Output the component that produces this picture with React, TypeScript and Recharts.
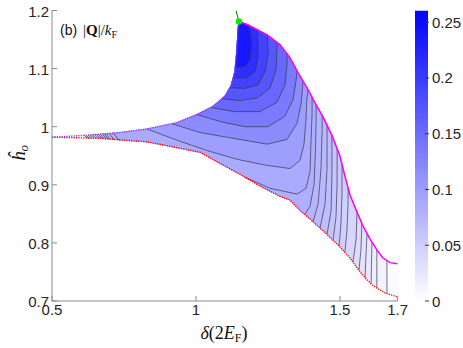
import React from "react";
import { ComposedChart, Scatter, XAxis, YAxis, BarChart, Bar } from "recharts";

type Pt = [number, number];

const xTicks = [0.5, 1, 1.5, 1.7];
const yTicks = [0.7, 0.8, 0.9, 1, 1.1, 1.2];
const topTicks = [1, 1.5];
const rightTicks = [0.8, 0.9, 1, 1.1];
const cbTicks = [0, 0.05, 0.1, 0.15, 0.2, 0.25];
const cbMax = 0.2605;

// upper-left border of the region (dotted purple), from the tip to the green point
const edgeUpper: Pt[] = [
  [0.5, 0.982], [0.608, 0.985], [0.736, 0.99], [0.83, 0.996], [0.934, 1.007],
  [1.003, 1.021], [1.059, 1.035], [1.101, 1.053], [1.122, 1.071], [1.135, 1.095],
  [1.142, 1.132], [1.146, 1.167], [1.149, 1.181],
];
// magenta border, green point -> right edge
const edgeMagenta: Pt[] = [
  [1.149, 1.181], [1.181, 1.175], [1.212, 1.167], [1.247, 1.158], [1.292, 1.141],
  [1.326, 1.119], [1.354, 1.093], [1.389, 1.064], [1.413, 1.041], [1.441, 1.017],
  [1.472, 0.985], [1.5, 0.949], [1.517, 0.915], [1.535, 0.882], [1.559, 0.853],
  [1.58, 0.829], [1.604, 0.807], [1.628, 0.788], [1.649, 0.774], [1.674, 0.766], [1.7, 0.764],
];
// red dotted lower border
const edgeLower: Pt[] = [
  [0.5, 0.982], [0.667, 0.98], [0.83, 0.974], [0.944, 0.963], [1.014, 0.956],
  [1.083, 0.937], [1.153, 0.918], [1.222, 0.898], [1.292, 0.88], [1.326, 0.874],
  [1.361, 0.856], [1.396, 0.841], [1.441, 0.821], [1.5, 0.793], [1.535, 0.774],
  [1.559, 0.757], [1.587, 0.74], [1.615, 0.726], [1.656, 0.714], [1.7, 0.707],
];
const greenLine: Pt[] = [[1.149, 1.181], [1.139, 1.2]];
const greenPoint: Pt[] = [[1.149, 1.181]];

// contour lines, outer level -> inner level; a level may be cut in pieces by the border
const contours: Pt[][][] = [
  [[[0.611, 0.985], [0.625, 0.98]], [[1.663, 0.713], [1.663, 0.769]]],
  [[[0.618, 0.985], [0.632, 0.98]], [[1.628, 0.722], [1.628, 0.788]]],
  [[[0.625, 0.986], [0.639, 0.98]], [[1.608, 0.73], [1.611, 0.801]]],
  [[[0.632, 0.986], [0.646, 0.98]], [[1.587, 0.74], [1.59, 0.776], [1.594, 0.816]]],
  [[[0.639, 0.986], [0.653, 0.98]], [[1.566, 0.753], [1.573, 0.79], [1.576, 0.833]]],
  [[[0.646, 0.987], [0.66, 0.98]], [[1.545, 0.767], [1.556, 0.807], [1.559, 0.853]]],
  [[[0.653, 0.987], [0.667, 0.98]], [[1.517, 0.784], [1.524, 0.82], [1.528, 0.867], [1.528, 0.895]]],
  [[[0.66, 0.987], [0.674, 0.98]], [[1.497, 0.795], [1.503, 0.831], [1.507, 0.884], [1.507, 0.935]]],
  [[[0.667, 0.987], [0.681, 0.979]], [[1.476, 0.805], [1.486, 0.844], [1.49, 0.901], [1.49, 0.963]]],
  [[[0.674, 0.988], [0.688, 0.979]], [[1.455, 0.815], [1.469, 0.855], [1.472, 0.918], [1.472, 0.985]]],
  [[[0.681, 0.988], [0.694, 0.979]], [[1.431, 0.826], [1.448, 0.867], [1.455, 0.927], [1.455, 1.003]]],
  [[[0.688, 0.988], [0.701, 0.979]], [[1.406, 0.836], [1.424, 0.867], [1.434, 0.927], [1.438, 0.995], [1.438, 1.02]]],
  [[[0.698, 0.989], [0.715, 0.978]], [[1.378, 0.849], [1.396, 0.863], [1.41, 0.901], [1.415, 0.961], [1.417, 1.012], [1.417, 1.038]]],
  [[[0.712, 0.989], [0.733, 0.977]], [[1.17, 0.913], [1.257, 0.894], [1.351, 0.884], [1.382, 0.894], [1.396, 0.923], [1.399, 0.97], [1.403, 1.021], [1.403, 1.051]]],
  [[[0.83, 0.996], [0.944, 0.975], [1.038, 0.959], [1.142, 0.944], [1.24, 0.934], [1.326, 0.928], [1.361, 0.942], [1.375, 0.97], [1.382, 1.012], [1.385, 1.047], [1.389, 1.064]]],
  [[[0.917, 1.005], [1.014, 0.99], [1.153, 0.978], [1.247, 0.97], [1.316, 0.978], [1.351, 1.006], [1.365, 1.04], [1.372, 1.078]]],
  [[[1.003, 1.021], [1.083, 1.009], [1.17, 1.0], [1.25, 1.0], [1.309, 1.018], [1.337, 1.047], [1.347, 1.078], [1.351, 1.096]]],
  [[[1.052, 1.033], [1.135, 1.026], [1.222, 1.026], [1.281, 1.042], [1.309, 1.072], [1.316, 1.107], [1.316, 1.125]]],
  [[[1.09, 1.048], [1.153, 1.045], [1.215, 1.05], [1.257, 1.067], [1.278, 1.098], [1.281, 1.132], [1.281, 1.145]]],
  [[[1.118, 1.067], [1.17, 1.066], [1.215, 1.072], [1.24, 1.095], [1.25, 1.124], [1.248, 1.157]]],
  [[[1.13, 1.084], [1.177, 1.084], [1.205, 1.095], [1.215, 1.119], [1.215, 1.149], [1.214, 1.167]]],
  [[[1.137, 1.102], [1.17, 1.103], [1.188, 1.115], [1.193, 1.141], [1.188, 1.163], [1.181, 1.175]]],
];
// fill of the region above each level (same order)
const baseColor = "#fafaff";
const bandColors = [
  "#f3f3ff", "#ededff", "#e8e8ff", "#e2e2ff", "#dcdcff", "#d6d6ff", "#d0d0ff",
  "#cacaff", "#c4c4ff", "#bebeff", "#b9b9ff", "#b4b4ff", "#afafff", "#aaaaff",
  "#9e9eff", "#8c8cff", "#7a7aff", "#6868ff", "#5656ff", "#4242ff", "#2e2eff", "#1818ff",
];

// border loop: upper edge left->right, then lower edge right->left
const loop: Pt[] = [...edgeUpper, ...edgeMagenta.slice(1), ...edgeLower.slice(1).reverse()];
const SX = 288;
const SY = 583;

function loopPos(p: Pt) {
  let best = Infinity;
  let pos = 0;
  const n = loop.length;
  for (let i = 0; i < n; i++) {
    const a = loop[i];
    const b = loop[(i + 1) % n];
    const ax = a[0] * SX, ay = a[1] * SY;
    const dx = b[0] * SX - ax, dy = b[1] * SY - ay;
    const px = p[0] * SX, py = p[1] * SY;
    let t = ((px - ax) * dx + (py - ay) * dy) / (dx * dx + dy * dy || 1e-9);
    t = Math.max(0, Math.min(1, t));
    const d = Math.hypot(ax + t * dx - px, ay + t * dy - py);
    if (d < best) {
      best = d;
      pos = i + t;
    }
  }
  return pos;
}

// border vertices met going backwards along the loop
function walk(from: number, to: number) {
  const n = loop.length;
  let span = from - to;
  if (span < 0) span += n;
  const out: Pt[] = [];
  let i = Math.floor(from);
  let d = from - i;
  while (d < span) {
    out.push(loop[((i % n) + n) % n]);
    i--;
    d++;
  }
  return out;
}

function levelPolygon(pieces: Pt[][]) {
  const out: Pt[] = [];
  pieces.forEach((piece, k) => {
    out.push(...piece);
    const next = pieces[(k + 1) % pieces.length];
    out.push(...walk(loopPos(piece[piece.length - 1]), loopPos(next[0])));
  });
  return out;
}

const toXY = (pts: Pt[]) => pts.map(([x, y]) => ({ x, y }));
const noShape = () => <g />;

const tickFont = {
  fontFamily: "'Liberation Sans', Arial, sans-serif",
  fontSize: 15,
  fill: "#262626",
};
const axisGray = "#8a8a8a";

function BottomTick({ x, y, payload }: any) {
  return (
    <g>
      <line x1={x} y1={y} x2={x} y2={y - 5} stroke={axisGray} />
      <text x={x} y={y + 13.5} textAnchor="middle" {...tickFont}>{payload.value}</text>
    </g>
  );
}
function LeftTick({ x, y, payload }: any) {
  return (
    <g>
      <line x1={x} y1={y} x2={x + 5} y2={y} stroke={axisGray} />
      <text x={x - 3} y={y + 6} textAnchor="end" {...tickFont}>{payload.value}</text>
    </g>
  );
}
function TopTick({ x, y }: any) {
  return <line x1={x} y1={y} x2={x} y2={y + 5} stroke={axisGray} />;
}
function RightTick({ x, y }: any) {
  return <line x1={x} y1={y} x2={x - 5} y2={y} stroke={axisGray} />;
}
function CbTick({ x, y, payload }: any) {
  return (
    <g>
      <line x1={x - 3} y1={y} x2={x + 1} y2={y} stroke="#333" />
      <text x={x + 4} y={y + 5.5} textAnchor="start" {...tickFont}>{payload.value}</text>
    </g>
  );
}

const cbData = [{ name: "cb", v: cbMax }];

export default function App() {
  const polygons = contours.map(levelPolygon);
  const serif = "'Liberation Serif', 'DejaVu Serif', serif";
  return (
    <div style={{ position: "absolute", left: 0, top: 0, width: 463, height: 348, background: "#fff" }}>
      <ComposedChart
        width={463}
        height={348}
        margin={{ top: 10.5, right: 65.4, bottom: 27, left: 0 }}
      >
        <XAxis
          type="number"
          dataKey="x"
          domain={[0.5, 1.7]}
          ticks={xTicks}
          interval={0}
          allowDataOverflow
          height={20}
          stroke={axisGray}
          tickLine={false}
          tickSize={0}
          tickMargin={0}
          tick={<BottomTick />}
        />
        <XAxis
          xAxisId="t"
          orientation="top"
          type="number"
          domain={[0.5, 1.7]}
          ticks={topTicks}
          interval={0}
          allowDataOverflow
          height={0}
          stroke={axisGray}
          tickLine={false}
          tickSize={0}
          tickMargin={0}
          tick={<TopTick />}
        />
        <YAxis
          type="number"
          dataKey="y"
          domain={[0.7, 1.2]}
          ticks={yTicks}
          interval={0}
          allowDataOverflow
          width={52}
          stroke={axisGray}
          tickLine={false}
          tickSize={0}
          tickMargin={0}
          tick={<LeftTick />}
        />
        <YAxis
          yAxisId="r"
          orientation="right"
          type="number"
          domain={[0.7, 1.2]}
          ticks={rightTicks}
          interval={0}
          allowDataOverflow
          width={0}
          stroke={axisGray}
          tickLine={false}
          tickSize={0}
          tickMargin={0}
          tick={<RightTick />}
        />
        <Scatter
          data={toXY(loop)}
          fill="none"
          shape={noShape}
          line={{ fill: baseColor, stroke: baseColor, strokeWidth: 0.5 }}
          isAnimationActive={false}
        />
        {polygons.map((poly, i) => (
          <Scatter
            key={"band" + i}
            data={toXY(poly)}
            fill="none"
            shape={noShape}
            line={{ fill: bandColors[i], stroke: bandColors[i], strokeWidth: 0.5 }}
            isAnimationActive={false}
          />
        ))}
        {contours.flatMap((pieces, i) =>
          pieces.map((piece, j) => (
            <Scatter
              key={"c" + i + "-" + j}
              data={toXY(piece)}
              fill="none"
              shape={noShape}
              line={{ fill: "none", stroke: "#3a3a4a", strokeWidth: 0.7 }}
              isAnimationActive={false}
            />
          ))
        )}
        <Scatter
          data={toXY(edgeLower)}
          fill="none"
          shape={noShape}
          line={{ fill: "none", stroke: "#ff0000", strokeWidth: 1.4, strokeDasharray: "1.2 1.2" }}
          isAnimationActive={false}
        />
        <Scatter
          data={toXY(edgeUpper)}
          fill="none"
          shape={noShape}
          line={{ fill: "none", stroke: "#9b30ff", strokeWidth: 1.4, strokeDasharray: "1.2 1.2" }}
          isAnimationActive={false}
        />
        <Scatter
          data={toXY(edgeMagenta)}
          fill="none"
          shape={noShape}
          line={{ fill: "none", stroke: "#ff00ff", strokeWidth: 1.5 }}
          isAnimationActive={false}
        />
        <Scatter
          data={toXY(greenLine)}
          fill="none"
          shape={noShape}
          line={{ fill: "none", stroke: "#007a00", strokeWidth: 1 }}
          isAnimationActive={false}
        />
        <Scatter
          data={toXY(greenPoint)}
          fill="#00ee00"
          shape={(p: any) => <circle cx={p.cx} cy={p.cy} r={3.2} fill="#00ee00" />}
          isAnimationActive={false}
        />
      </ComposedChart>

      <div style={{ position: "absolute", left: 405, top: 0 }}>
        <BarChart
          width={58}
          height={348}
          data={cbData}
          margin={{ top: 10.5, right: 0, bottom: 47, left: 10 }}
          barCategoryGap={0}
        >
          <defs>
            <linearGradient id="cbGrad" x1="0" y1="1" x2="0" y2="0">
              <stop offset="0" stopColor="#ffffff" />
              <stop offset="1" stopColor="#0000ff" />
            </linearGradient>
          </defs>
          <XAxis dataKey="name" hide />
          <YAxis
            orientation="right"
            type="number"
            domain={[0, cbMax]}
            ticks={cbTicks}
            interval={0}
            allowDataOverflow
            width={35}
            axisLine={false}
            tickLine={false}
            tickSize={0}
            tickMargin={0}
            tick={<CbTick />}
          />
          <Bar dataKey="v" fill="url(#cbGrad)" isAnimationActive={false} />
        </BarChart>
      </div>

      <svg
        width={463}
        height={348}
        style={{ position: "absolute", left: 0, top: 0, pointerEvents: "none" }}
      >
        <text x={60} y={35} fontFamily="'Liberation Sans', Arial, sans-serif" fontSize={14} fill="#111">
          (b)
        </text>
        <text x={83} y={35} fontFamily={serif} fontSize={15} fill="#111">
          |<tspan fontWeight="bold">Q</tspan>|/<tspan fontStyle="italic">k</tspan>
          <tspan fontSize={10} dy={3}>F</tspan>
        </text>
        <text x={224} y={339} textAnchor="middle" fontFamily={serif} fontSize={18} fill="#111">
          <tspan fontStyle="italic">δ</tspan>(2<tspan fontStyle="italic">E</tspan>
          <tspan fontSize={12} dy={3}>F</tspan>
          <tspan dy={-3}>)</tspan>
        </text>
        <text
          transform="translate(25,153) rotate(-90)"
          textAnchor="middle"
          fontFamily={serif}
          fontSize={19}
          fill="#111"
        >
          <tspan fontStyle="italic">ĥ</tspan>
          <tspan fontStyle="italic" fontSize={13} dy={3}>o</tspan>
        </text>
      </svg>
    </div>
  );
}
